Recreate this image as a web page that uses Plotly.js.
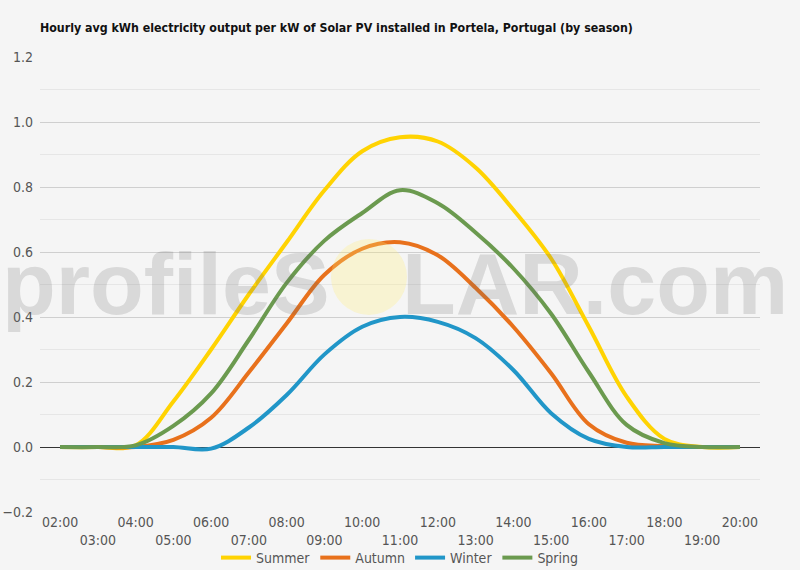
<!DOCTYPE html>
<html>
<head>
<meta charset="utf-8">
<script src="https://cdn.plot.ly/plotly-3.0.1.min.js"></script>
<style>
  html, body { margin: 0; padding: 0; background: #f5f5f5; }
  #chart { width: 800px; height: 570px; }
</style>
</head>
<body>
<div id="chart"></div>
<script>
// hourly values
const hours = ['02:00', '03:00', '04:00', '05:00', '06:00', '07:00', '08:00', '09:00', '10:00',
               '11:00', '12:00', '13:00', '14:00', '15:00', '16:00', '17:00', '18:00', '19:00', '20:00'];
const hourLabels = ['02:00', '\u00a0<br>03:00', '04:00', '\u00a0<br>05:00', '06:00', '\u00a0<br>07:00',
                    '08:00', '\u00a0<br>09:00', '10:00', '\u00a0<br>11:00', '12:00', '\u00a0<br>13:00',
                    '14:00', '\u00a0<br>15:00', '16:00', '\u00a0<br>17:00', '18:00', '\u00a0<br>19:00', '20:00'];

const summer = [0, 0, 0.005, 0.14, 0.30, 0.47, 0.63, 0.79, 0.91, 0.953, 0.94, 0.86, 0.73, 0.58, 0.37, 0.155, 0.025, 0, 0];
const autumn = [0, 0, 0, 0.022, 0.09, 0.23, 0.38, 0.53, 0.61, 0.63, 0.59, 0.49, 0.37, 0.227, 0.07, 0.013, 0.003, 0, 0];
const winter = [0, 0, 0, 0, -0.005, 0.06, 0.16, 0.285, 0.37, 0.40, 0.385, 0.335, 0.237, 0.104, 0.025, 0, 0, 0, 0];
const spring = [0, 0, 0.005, 0.065, 0.165, 0.33, 0.505, 0.635, 0.72, 0.79, 0.75, 0.66, 0.55, 0.41, 0.23, 0.068, 0.012, 0, 0];

const seasonNames = ['Summer', 'Autumn', 'Winter', 'Spring'];
const seasonColors = ['#ffd302', '#e8711c', '#2196c8', '#6b9a4f'];

const narrow = '"Liberation Sans Narrow", "DejaVu Sans Condensed", Roboto, sans-serif';

function season_trace(values, i) {
    return {
        x: hours,
        y: values,
        name: seasonNames[i],
        type: 'scatter',
        mode: 'lines',
        line: { color: seasonColors[i], width: 4, shape: 'spline', smoothing: 1 }
    };
}

const traces = [summer, autumn, winter, spring].map(season_trace);

// plot box in pixels, used to place the watermark
const L = 40, R = 760, T = 57, B = 512;
function px(x) { return (x - L) / (R - L); }
function py(y) { return (B - y) / (B - T); }

const markFont = { family: '"Liberation Sans", Arial, sans-serif', size: 88, weight: 'bold', color: 'rgba(105,105,105,0.2)' };

Plotly.newPlot('chart', traces, {
    width: 800,
    height: 570,
    paper_bgcolor: '#f5f5f5',
    plot_bgcolor: '#f5f5f5',
    margin: { l: L, r: 800 - R, t: T, b: 570 - B },
    font: { family: narrow, color: '#555555', size: 14 },
    title: {
        text: 'Hourly avg kWh electricity output per kW of Solar PV installed in Portela, Portugal (by season)',
        font: { family: narrow, size: 12.3, color: '#111111', weight: 'bold' },
        x: 40 / 800, xref: 'container', xanchor: 'left',
        y: 1 - 28 / 570, yref: 'container', yanchor: 'middle'
    },
    xaxis: {
        type: 'category',
        tickvals: hours,
        ticktext: hourLabels,
        range: [-0.53, 18.53],
        showgrid: false,
        showline: false,
        zeroline: false,
        ticks: '',
        tickangle: 0,
        tickfont: { family: narrow, size: 14, color: '#555555' }
    },
    yaxis: {
        range: [-0.2, 1.2],
        dtick: 0.2,
        tickformat: '.1f',
        gridcolor: '#cfcfcf',
        gridwidth: 1,
        minor: { dtick: 0.1, showgrid: true, gridcolor: '#e6e6e6' },
        zeroline: true,
        zerolinecolor: '#333333',
        zerolinewidth: 1,
        showline: false,
        ticks: '',
        ticklabelstandoff: 6,
        tickfont: { family: narrow, size: 14, color: '#555555' }
    },
    showlegend: true,
    legend: {
        orientation: 'h',
        x: 0.5, xanchor: 'center', xref: 'paper',
        y: 12 / 570, yanchor: 'middle', yref: 'container',
        font: { family: narrow, size: 14, color: '#555555' },
        bgcolor: 'rgba(0,0,0,0)'
    },
    shapes: [{
        type: 'circle', xref: 'paper', yref: 'paper', layer: 'above',
        x0: px(331), x1: px(407), y0: py(315), y1: py(239),
        fillcolor: 'rgba(255,236,120,0.28)', line: { width: 0 }
    }],
    annotations: [{
        text: 'profileS', xref: 'paper', yref: 'paper', showarrow: false,
        x: px(0), xanchor: 'left', y: py(283), yanchor: 'middle',
        font: markFont
    }, {
        text: 'LAR.com', xref: 'paper', yref: 'paper', showarrow: false,
        x: px(400), xanchor: 'left', y: py(283), yanchor: 'middle',
        font: markFont
    }]
}, { displayModeBar: false, staticPlot: true });
</script>
</body>
</html>
